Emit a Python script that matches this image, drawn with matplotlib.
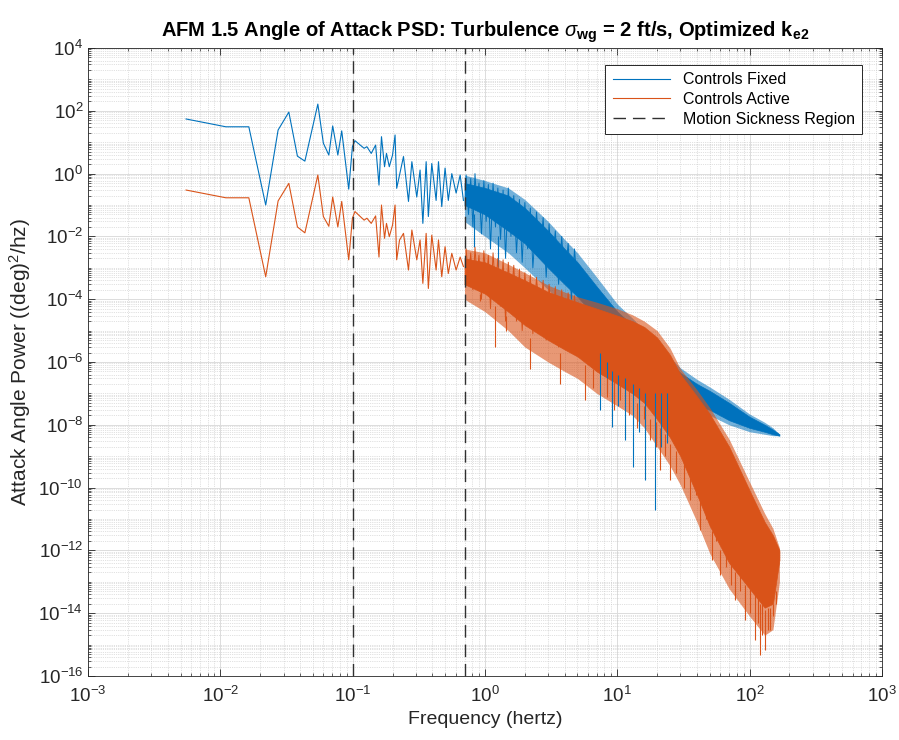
import numpy as np
import matplotlib
matplotlib.use('Agg')
import matplotlib.pyplot as plt
from matplotlib.ticker import FixedLocator, LogLocator, NullFormatter, LogFormatterSciNotation

plt.rcParams['font.family'] = ['Liberation Sans', 'DejaVu Sans']
plt.rcParams['mathtext.fontset'] = 'custom'
plt.rcParams['mathtext.rm'] = 'Liberation Sans'
plt.rcParams['mathtext.it'] = 'Liberation Sans:italic'
plt.rcParams['mathtext.bf'] = 'Liberation Sans:bold'
plt.rcParams['mathtext.default'] = 'regular'

BLUE = '#0072BD'
ORANGE = '#D95319'

# sparse low-frequency part of the PSD (Hz, (deg)^2/hz)
freq_low = [0.0055, 0.011, 0.0164, 0.022, 0.0273, 0.0329, 0.0382, 0.0435, 0.0545, 0.060,
            0.066, 0.0706, 0.0772, 0.0826, 0.0933, 0.0995, 0.104, 0.114, 0.122, 0.128,
            0.138, 0.149, 0.158, 0.165, 0.174, 0.180, 0.189, 0.200, 0.209, 0.215, 0.226,
            0.242, 0.264, 0.280, 0.305, 0.323, 0.339, 0.359, 0.373, 0.396, 0.427,
            0.445, 0.471, 0.499, 0.528, 0.561, 0.605, 0.649, 0.687]
fixed_low = [55, 31, 31, 0.1, 24.5, 91, 3.6, 2.5, 164, 9.3,
             3.9, 33, 3.9, 23, 0.32, 7.2, 11.2, 8.1, 6.4, 7.2,
             4.4, 8.1, 0.43, 15, 1.66, 4.4, 1.66, 3.9, 17, 0.34, 0.91,
             3.5, 0.13, 2.4, 0.18, 1.3, 0.026, 2.4, 0.043, 2.1, 0.14,
             2.4, 0.089, 1.5, 0.14, 1.0, 0.24, 0.9, 0.14]
active_low = [0.30, 0.17, 0.17, 5.2e-4, 0.135, 0.49, 0.02, 0.013, 0.9, 0.043,
              0.021, 0.18, 0.02, 0.13, 1.8e-3, 0.038, 0.062, 0.043, 0.033, 0.038,
              0.026, 0.045, 2.2e-3, 0.1, 8.7e-3, 0.026, 9.8e-3, 0.023, 0.1, 1.8e-3, 7.7e-3,
              0.0125, 8.5e-4, 0.016, 1.8e-3, 7.7e-3, 3.2e-4, 0.0125, 2.2e-4, 0.011, 8.5e-4,
              7.7e-3, 5.2e-4, 4.7e-3, 6.6e-4, 2.9e-3, 8.5e-4, 2.2e-3, 1.1e-3]

# 0.7 - 5 Hz: peaks and troughs of the noisy trace
freq_zig = [0.72, 0.75, 0.78, 0.81, 0.84, 0.87, 0.90, 0.94, 0.98, 1.02, 1.06, 1.10, 1.15, 1.20,
            1.25, 1.31, 1.37, 1.43, 1.50, 1.57, 1.65, 1.73, 1.82, 1.91, 2.0, 2.1, 2.2, 2.3,
            2.45, 2.6, 2.75, 2.9, 3.05, 3.2, 3.4, 3.6, 3.8, 4.0, 4.25, 4.5, 4.75, 5.0]
fixed_zig = [0.9, 0.05, 0.7, 0.02, 1.0, 0.08, 0.5, 0.012, 0.6, 0.03, 0.45, 0.004, 0.5, 0.02,
             0.35, 0.008, 0.3, 0.002, 0.35, 0.01, 0.2, 0.003, 0.15, 0.0015, 0.12, 0.004, 0.08, 0.001,
             0.06, 0.002, 0.04, 0.0005, 0.025, 0.001, 0.015, 0.0003, 0.01, 0.0004, 0.006, 0.0001,
             0.004, 0.0002]
active_zig = [4e-3, 4e-4, 3e-3, 2e-4, 4.5e-3, 5e-4, 2.5e-3, 1e-4, 3.5e-3, 3e-4, 2.5e-3, 5e-5,
              3e-3, 2e-4, 2e-3, 6e-5, 1.8e-3, 2e-5, 1.5e-3, 8e-5, 1.2e-3, 2e-5, 9e-4, 1e-5,
              7e-4, 3e-5, 6e-4, 8e-6, 5e-4, 2e-5, 4e-4, 5e-6, 3e-4, 1e-5, 2.5e-4, 3e-6,
              2e-4, 5e-6, 1.6e-4, 2e-6, 1.3e-4, 3e-6]

# dense part: solid core of the band and its fuzzy outer fringe
band_freq = [0.7, 1.0, 1.5, 2, 3, 4, 5, 7, 10, 13, 16, 20, 25, 30, 40, 50, 70, 100, 130, 150, 168]
fixed_upper = [0.5, 0.35, 0.2, 0.08, 0.015, 4e-3, 1.5e-3, 2.5e-4, 4e-5, 1.5e-5, 6e-6, 2.5e-6, 9e-7,
               4.5e-7, 2e-7, 1.2e-7, 5e-8, 1.8e-8, 1e-8, 7e-9, 5e-9]
fixed_lower = [0.1, 0.05, 0.015, 6e-3, 1e-3, 3e-4, 1.2e-4, 2.5e-5, 4e-6, 1.5e-6, 6e-7, 3e-7, 1.5e-7,
               6e-8, 4e-8, 3e-8, 1.4e-8, 8e-9, 6e-9, 5e-9, 4.5e-9]
fixed_fringe_up = [0.9, 0.6, 0.35, 0.15, 0.03, 8e-3, 3e-3, 5e-4, 7e-5, 2.5e-5, 1e-5, 4e-6, 1.4e-6,
                   6.5e-7, 2.8e-7, 1.6e-7, 6.5e-8, 2.2e-8, 1.2e-8, 8e-9, 5e-9]
fixed_fringe_lo = [0.03, 0.01, 3e-3, 1e-3, 2e-4, 6e-5, 2e-5, 5e-6, 8e-7, 3e-7, 1.2e-7, 6e-8, 4e-8,
                   3e-8, 2.5e-8, 2e-8, 1e-8, 6e-9, 5e-9, 4.5e-9, 4.5e-9]
active_upper = [2e-3, 1.5e-3, 7e-4, 4e-4, 1.7e-4, 1.1e-4, 8e-5, 5e-5, 3e-5, 2e-5, 1.3e-5, 6e-6, 1.7e-6,
                4e-7, 8e-8, 2.2e-8, 2e-9, 8e-11, 8e-12, 3e-12, 1e-12]
active_lower = [3e-4, 1.5e-4, 4e-5, 1.5e-5, 5e-6, 2.5e-6, 1.5e-6, 5e-7, 2e-7, 1e-7, 5e-8, 1.5e-8, 4e-9,
                1e-9, 6e-11, 6e-12, 4e-13, 6e-14, 1.5e-14, 2e-14, 5e-13]
active_fringe_up = [4e-3, 3e-3, 1.3e-3, 7e-4, 2.8e-4, 1.7e-4, 1.2e-4, 8e-5, 5e-5, 3.2e-5, 2e-5, 1e-5,
                    2.8e-6, 6e-7, 1.3e-7, 3.5e-8, 3.5e-9, 1.5e-10, 1.5e-11, 5e-12, 1.2e-12]
active_fringe_lo = [1e-4, 4e-5, 1e-5, 3e-6, 1e-6, 5e-7, 3e-7, 1e-7, 4e-8, 2e-8, 8e-9, 2e-9, 5e-10,
                    1.2e-10, 8e-12, 8e-13, 6e-14, 8e-15, 2e-15, 3e-15, 1e-13]

# deep downward spikes below the band
fixed_spike_freq = [0.82, 1.26, 7.4, 8.3, 9.1, 10.2, 11.5, 13.2, 14.6, 16.2, 19.3, 21.5, 23.8]
fixed_spike_min = [4.6e-3, 1.1e-3, 3e-8, 1e-7, 8.5e-9, 4e-8, 3.3e-9, 4.6e-10, 6e-9, 1.7e-10, 2e-11,
                   2e-9, 2.6e-9]
fixed_spike_top = [0.05, 0.01, 2e-6, 1e-6, 5e-7, 4e-7, 3e-7, 2e-7, 1.5e-7, 1e-7, 1e-7, 1e-7, 1e-7]

active_spike_freq = [0.92, 1.2, 1.43, 2.2, 3.7, 5.7, 6.5, 8.4, 9.4, 10.5, 12.3, 14.1, 15.8, 17.7, 19.5,
                     21, 23, 25, 28, 32, 35.5, 39, 42, 47, 52, 56, 60, 66, 72, 78, 85, 92, 100,
                     110, 115, 120, 125, 131, 137, 143, 150, 158]
active_spike_min = [9e-5, 3e-6, 1e-5, 6e-7, 2e-7, 6e-8, 1.5e-7, 7.7e-8, 3e-8, 6e-8, 2e-8, 8e-9, 1.5e-8,
                    3.3e-9, 2e-9, 3.6e-10, 1e-9, 1.7e-10, 3e-10, 1e-10, 4e-11, 6e-11, 4.5e-12, 1e-11,
                    5e-13, 2e-12, 1.7e-13, 3e-13, 8e-14, 2.6e-14, 5e-14, 6e-15, 1e-14, 1.4e-15,
                    5e-15, 4.7e-16, 2e-15, 6.8e-16, 3e-15, 2.9e-15, 8e-15, 2e-14]
active_spike_top = [1.5e-4, 6e-5, 3e-5, 6e-6, 2e-6, 8e-7, 6e-7, 3e-7, 2.5e-7, 1.8e-7, 1.2e-7, 5e-8, 4e-8,
                    1.5e-8, 1.2e-8, 8e-9, 5e-9, 2.5e-9, 1.5e-9, 8e-10, 2e-10, 1.5e-10, 5e-11, 2.5e-11,
                    4e-12, 3e-12, 1e-12, 8e-13, 4e-13, 2e-13, 1.5e-13, 8e-14, 6e-14, 4e-14, 3e-14,
                    2e-14, 2e-14, 1.3e-14, 1.5e-14, 1.5e-14, 2e-14, 5e-14]

motion_sickness = [0.1, 0.7]

fig = plt.figure(figsize=(8.99, 7.40), dpi=100)
ax = fig.add_axes([0.098, 0.0865, 0.883, 0.8486])

ax.plot(freq_low, fixed_low, color=BLUE, lw=0.8, label='Controls Fixed')
ax.plot(freq_zig, fixed_zig, color=BLUE, lw=0.7)
ax.fill_between(band_freq, fixed_fringe_lo, fixed_fringe_up, color=BLUE, alpha=0.55, lw=0)
ax.fill_between(band_freq, fixed_lower, fixed_upper, color=BLUE, lw=0.5, edgecolor=BLUE)
ax.vlines(fixed_spike_freq, fixed_spike_min, fixed_spike_top, color=BLUE, lw=0.8)

ax.plot(freq_low, active_low, color=ORANGE, lw=0.8, label='Controls Active')
ax.plot(freq_zig, active_zig, color=ORANGE, lw=0.7)
ax.fill_between(band_freq, active_fringe_lo, active_fringe_up, color=ORANGE, alpha=0.6, lw=0)
ax.fill_between(band_freq, active_lower, active_upper, color=ORANGE, lw=0.5, edgecolor=ORANGE)
ax.vlines(active_spike_freq, active_spike_min, active_spike_top, color=ORANGE, lw=0.8)

for i, f in enumerate(motion_sickness):
    ax.axvline(f, color='#303030', ls=(0, (9, 5)), lw=1.0, zorder=5,
               label='Motion Sickness Region' if i == 0 else None)

ax.set_xscale('log')
ax.set_yscale('log')
ax.set_xlim(1e-3, 1e3)
ax.set_ylim(1e-16, 1e4)

ax.xaxis.set_major_locator(FixedLocator([10.0 ** k for k in range(-3, 4)]))
ax.xaxis.set_minor_locator(LogLocator(base=10, subs=np.arange(2, 10), numticks=100))
ax.yaxis.set_major_locator(FixedLocator([10.0 ** k for k in range(-16, 5, 2)]))
ax.yaxis.set_minor_locator(LogLocator(base=10, subs=np.arange(1, 10), numticks=200))
ax.xaxis.set_major_formatter(LogFormatterSciNotation())
ax.yaxis.set_major_formatter(LogFormatterSciNotation())
ax.xaxis.set_minor_formatter(NullFormatter())
ax.yaxis.set_minor_formatter(NullFormatter())

ax.grid(True, which='major', color='#dcdcdc', lw=0.7, ls='-')
ax.grid(True, which='minor', color='#c4c4c4', lw=0.5, ls=':')
ax.set_axisbelow(True)

ax.tick_params(which='both', direction='in', top=True, right=True, colors='#262626',
               labelsize=13.5, labelcolor='#262626')
ax.tick_params(axis='x', which='major', pad=7)
ax.tick_params(which='major', length=5, width=0.6)
ax.tick_params(which='minor', length=2.5, width=0.5)
for s in ax.spines.values():
    s.set_color('#262626')
    s.set_linewidth(0.6)

ax.set_xlabel('Frequency (hertz)', fontsize=14, color='#262626')
ax.set_ylabel(r'Attack Angle Power ((deg)$^2$/hz)', fontsize=15, color='#262626', labelpad=4)
ax.set_title(r'AFM 1.5 Angle of Attack PSD: Turbulence $\mathit{\sigma}_{\mathbf{wg}}$ = 2 ft/s, Optimized k$_{\mathbf{e2}}$',
             fontsize=14.5, fontweight='bold', pad=8)

leg = ax.legend(loc='upper right', bbox_to_anchor=(0.975, 0.973), borderaxespad=0,
                fancybox=False, edgecolor='#262626', framealpha=1, fontsize=11.5,
                handlelength=3.6, borderpad=0.45, labelspacing=0.3)
leg.get_frame().set_linewidth(0.7)

fig.savefig('out.png', dpi=100)
